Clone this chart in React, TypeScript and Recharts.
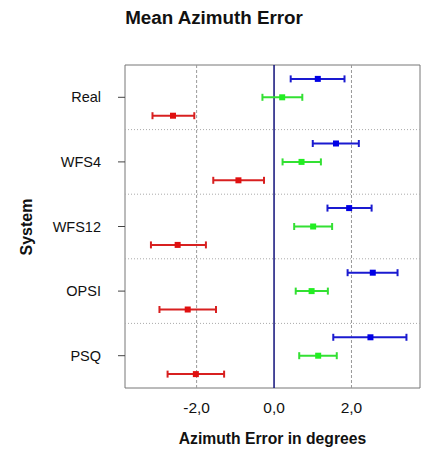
import React from "react";
import {
  ErrorBar,
  Label,
  ReferenceArea,
  ReferenceLine,
  Scatter,
  ScatterChart,
  XAxis,
  YAxis,
} from "recharts";

const systems = ["Real", "WFS4", "WFS12", "OPSI", "PSQ"];

const blueMean = [1.13, 1.6, 1.94, 2.55, 2.49];
const blueLow = [0.43, 1.0, 1.38, 1.9, 1.53];
const blueHigh = [1.82, 2.19, 2.52, 3.19, 3.42];

const greenMean = [0.21, 0.71, 1.01, 0.97, 1.14];
const greenLow = [-0.3, 0.22, 0.52, 0.56, 0.65];
const greenHigh = [0.73, 1.21, 1.5, 1.39, 1.62];

const redMean = [-2.61, -0.92, -2.49, -2.23, -2.02];
const redLow = [-3.14, -1.57, -3.18, -2.96, -2.75];
const redHigh = [-2.06, -0.26, -1.76, -1.5, -1.29];

const xTicks = [-2, 0, 2];

const FONT = "'Liberation Sans', Arial, sans-serif";

// each system gets a band of height 1; series sit above / on / below its middle
const build = (mean: number[], low: number[], high: number[], shift: number) =>
  systems.map((name, i) => ({
    name,
    x: mean[i],
    y: i + 0.5 + shift,
    err: [mean[i] - low[i], high[i] - mean[i]],
  }));

const blueData = build(blueMean, blueLow, blueHigh, -0.285);
const greenData = build(greenMean, greenLow, greenHigh, 0);
const redData = build(redMean, redLow, redHigh, 0.285);

const square = (color: string) => (props: any) =>
  <rect x={props.cx - 3} y={props.cy - 3} width={6} height={6} fill={color} />;

export default function App() {
  return (
    <div style={{ position: "absolute", left: 0, top: 0, width: 443, height: 453, background: "#fff" }}>
      <div
        style={{
          position: "absolute",
          left: 0,
          top: 8,
          width: 428,
          textAlign: "center",
          fontFamily: FONT,
          fontWeight: "bold",
          fontSize: 18.8,
          lineHeight: "20px",
          color: "#111",
        }}
      >
        Mean Azimuth Error
      </div>
      <ScatterChart
        width={443}
        height={453}
        margin={{ top: 65, right: 23, bottom: 0, left: 0 }}
        style={{ fontFamily: FONT }}
      >
        <XAxis
          type="number"
          dataKey="x"
          domain={[-3.85, 3.77]}
          ticks={xTicks}
          tickFormatter={(v: number) => v.toFixed(1).replace(".", ",")}
          tickLine={false}
          axisLine={false}
          tickMargin={8}
          height={65}
          tick={{ fill: "#111", fontSize: 15.5 }}
        >
          <Label
            value="Azimuth Error in degrees"
            position="insideBottom"
            offset={9}
            style={{ fontWeight: "bold", fontSize: 15.7, fill: "#111" }}
          />
        </XAxis>
        <YAxis
          type="number"
          dataKey="y"
          domain={[0, 5]}
          reversed
          ticks={[0.5, 1.5, 2.5, 3.5, 4.5]}
          tickFormatter={(v: number) => systems[Math.floor(v)]}
          width={125}
          tickSize={7}
          tickMargin={17}
          axisLine={false}
          tickLine={{ stroke: "#444" }}
          tick={{ fill: "#111", fontSize: 14.5 }}
        >
          <Label
            content={() => (
              <text
                x={26}
                y={227}
                transform="rotate(-90 26 227)"
                textAnchor="middle"
                dominantBaseline="central"
                style={{ fontWeight: "bold", fontSize: 16, fill: "#111", fontFamily: FONT }}
              >
                System
              </text>
            )}
          />
        </YAxis>
        {[1, 2, 3, 4].map((b) => (
          <ReferenceLine key={b} y={b} stroke="#aaa" strokeDasharray="1 2" />
        ))}
        <ReferenceLine x={-2} stroke="#999" strokeDasharray="3 2" />
        <ReferenceLine x={2} stroke="#999" strokeDasharray="3 2" />
        <ReferenceLine x={0} stroke="#10107a" strokeWidth={1.5} />
        <ReferenceArea x1={-3.85} x2={3.77} y1={0} y2={5} fill="none" stroke="#777" strokeWidth={1} />
        <Scatter data={blueData} shape={square("#0000e6")} isAnimationActive={false}>
          <ErrorBar dataKey="err" direction="x" width={3.5} stroke="#1a1ad0" strokeWidth={2} />
        </Scatter>
        <Scatter data={greenData} shape={square("#22ee22")} isAnimationActive={false}>
          <ErrorBar dataKey="err" direction="x" width={3.5} stroke="#33e033" strokeWidth={2} />
        </Scatter>
        <Scatter data={redData} shape={square("#e01010")} isAnimationActive={false}>
          <ErrorBar dataKey="err" direction="x" width={3.5} stroke="#d82020" strokeWidth={2} />
        </Scatter>
      </ScatterChart>
    </div>
  );
}
